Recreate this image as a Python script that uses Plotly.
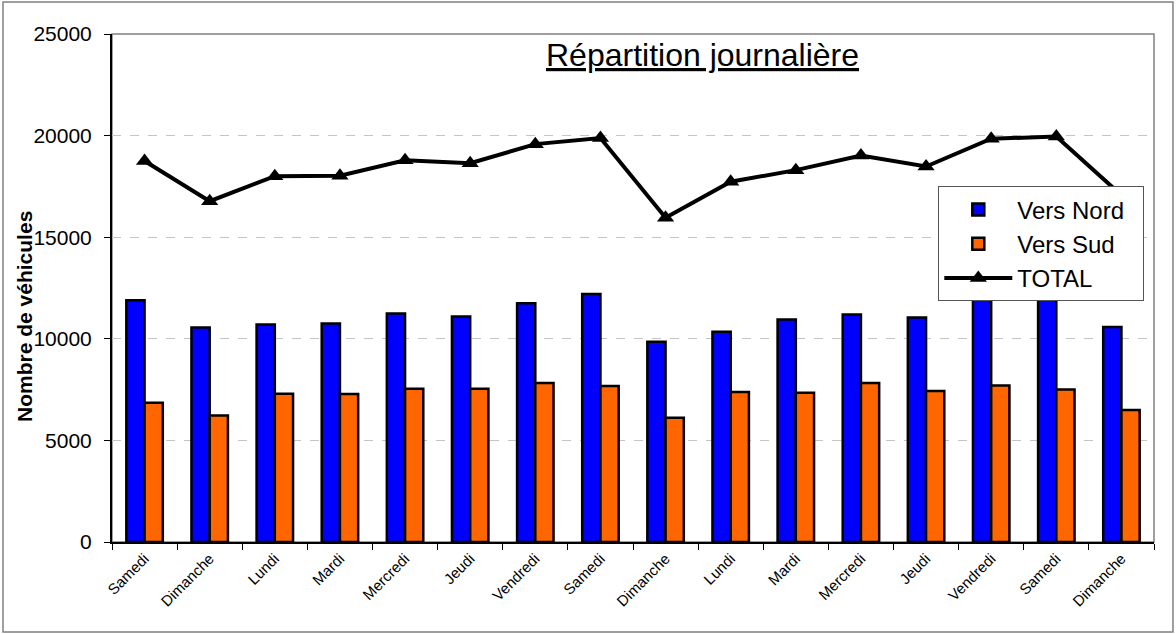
import plotly.graph_objects as go

# Daily counts
jours = ['Samedi', 'Dimanche', 'Lundi', 'Mardi', 'Mercredi', 'Jeudi', 'Vendredi', 'Samedi',
         'Dimanche', 'Lundi', 'Mardi', 'Mercredi', 'Jeudi', 'Vendredi', 'Samedi', 'Dimanche']
vers_nord = [11900, 10550, 10700, 10750, 11250, 11100, 11750, 12200,
             9850, 10350, 10950, 11200, 11050, 12150, 12450, 10580]
vers_sud = [6850, 6220, 7300, 7280, 7540, 7540, 7830, 7680,
            6110, 7380, 7350, 7820, 7430, 7700, 7500, 6490]
total = [18750, 16770, 18000, 18030, 18790, 18640, 19580, 19880,
         15960, 17730, 18300, 19020, 18480, 19850, 19950, 17070]

# unique x keys so repeated day names stay separate categories
x_keys = list(range(len(jours)))
pad = '\u00a0\u00a0'  # widens the legend box a little

fig = go.Figure()

fig.add_trace(go.Bar(
    name='Vers Nord' + pad, x=x_keys, y=vers_nord,
    marker=dict(color='#0000ff', line=dict(color='black', width=2.5)),
))
fig.add_trace(go.Bar(
    name='Vers Sud' + pad, x=x_keys, y=vers_sud,
    marker=dict(color='#ff6600', line=dict(color='black', width=2.5)),
))
fig.add_trace(go.Scatter(
    name='TOTAL' + pad, x=x_keys, y=total, mode='lines+markers',
    line=dict(color='black', width=4),
    marker=dict(symbol='triangle-up', size=15, color='black'),
))

fig.update_layout(
    width=1176, height=634,
    margin=dict(l=112, r=22, t=34, b=92),
    paper_bgcolor='white', plot_bgcolor='white',
    font=dict(family='Liberation Sans, Arial, sans-serif', color='black'),
    barmode='group', bargap=0.44, bargroupgap=0,
    showlegend=True,
    legend=dict(
        x=0.793, y=0.70, xanchor='left', yanchor='top',
        bgcolor='white', bordercolor='#555555', borderwidth=1,
        font=dict(size=24), tracegroupgap=0, itemwidth=68,
    ),
    annotations=[
        dict(text='<u>Répartition journalière</u>', x=0.567, y=0.958,
             xref='paper', yref='paper', xanchor='center', yanchor='middle',
             showarrow=False, font=dict(size=32)),
        # y-axis title placed by hand, it sits below the plot centre
        dict(text='<b>Nombre de véhicules</b>', x=-0.0835, y=0.445, textangle=-90,
             xref='paper', yref='paper', xanchor='center', yanchor='middle',
             showarrow=False, font=dict(size=21)),
    ],
    shapes=[
        dict(type='rect', xref='paper', yref='paper', x0=0, x1=1, y0=0, y1=1,
             line=dict(color='#808080', width=1.5), layer='below'),
        dict(type='rect', xref='paper', yref='paper', x0=-0.1046, x1=1.0182, y0=-0.177, y1=1.063,
             line=dict(color='#808080', width=1.5), layer='below'),
    ],
)

fig.update_xaxes(
    type='category', tickvals=x_keys, ticktext=jours, tickangle=-45,
    tickfont=dict(size=15), showline=True, linecolor='black', linewidth=2,
    ticks='outside', tickson='boundaries', ticklen=6, tickcolor='black',
    showgrid=False, range=[-0.5, len(jours) - 0.5],
)
fig.update_yaxes(
    range=[0, 25000], dtick=5000, tickformat='d', tickfont=dict(size=21),
    showline=True, linecolor='black', linewidth=2,
    ticks='outside', ticklen=6, tickcolor='black', ticklabelstandoff=8,
    showgrid=True, gridcolor='#c4c4c4', griddash='dash', gridwidth=1,
    zeroline=False,
)

fig.write_html('out.html', config={'displayModeBar': False},
               post_script="document.body.style.margin='0px';")
